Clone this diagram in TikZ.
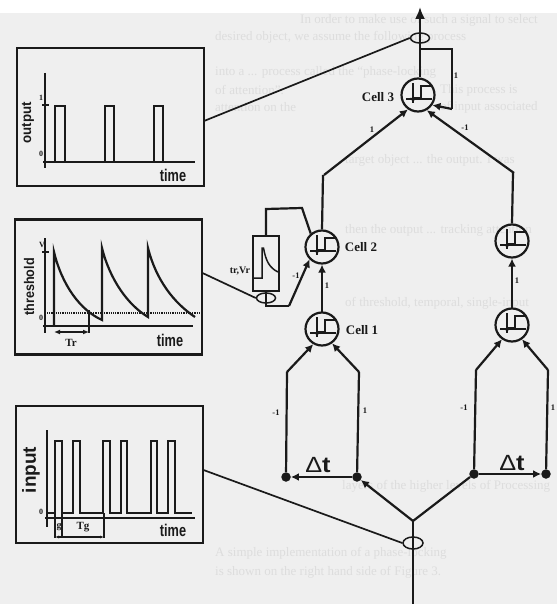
\documentclass[tikz,border=0pt]{standalone}
\usepackage{fontspec}
\setmainfont{Liberation Serif}
\newfontfamily\narrowsans{Liberation Sans}
\usetikzlibrary{arrows.meta,shapes.geometric,calc}
\definecolor{paper}{HTML}{EFEFEF}
\definecolor{ghost}{HTML}{DDDDDD}
\definecolor{ink}{HTML}{1A1A1A}
\tikzset{
  wire/.style={line width=2.2pt,draw=ink,line join=miter},
  thin wire/.style={line width=1.7pt,draw=ink},
  arrowed/.style={wire,-{Latex[length=8pt,width=8pt]}},
  panel/.style={draw=ink,line width=2.2pt,rectangle,minimum width=#1,inner sep=0pt},
  cell/.style={draw=ink,line width=2.2pt,circle,minimum size=33pt,inner sep=0pt},
  loop/.style={draw=ink,line width=1.5pt,ellipse,minimum width=19pt,minimum height=10pt,inner sep=0pt},
  dot/.style={fill=ink,circle,minimum size=9.5pt,inner sep=0pt},
  weight/.style={font=\fontsize{8.5}{8.5}\selectfont\bfseries,text=ink,inner sep=0pt},
  celltag/.style={font=\fontsize{13}{13}\selectfont\bfseries,text=ink,inner sep=0pt},
  axislabel/.style={font=\narrowsans\fontsize{14}{14}\selectfont\bfseries,text=ink,inner sep=0pt,rotate=90},
  timelabel/.style={font=\narrowsans\fontsize{17}{17}\selectfont\bfseries,text=ink,inner sep=0pt},
  small/.style={font=\fontsize{8}{8}\selectfont\bfseries,text=ink,inner sep=0pt},
  ghosttext/.style={font=\fontsize{13}{13}\selectfont,text=ghost,anchor=west,inner sep=0pt},
  axisline/.style={line width=1.5pt,draw=ink},
  curve/.style={line width=1.9pt,draw=ink},
  pics/stepicon/.style={code={
    \draw[line width=1.4pt,draw=ink] (-5,-12) -- (-5,8);
    \draw[line width=1.4pt,draw=ink] (-12,4) -- (14,4);
    \draw[line width=1.4pt,draw=ink] (-5,3) -- (3,3) -- (3,-9) -- (13,-9);
    \fill[ink] (-5,7) -- (-8,3) -- (-2,3) -- cycle;
  }}
}
\begin{document}
\begin{tikzpicture}[x=1pt,y=-1pt]
\useasboundingbox (0,0) rectangle (557,604);
\fill[paper] (0,13) rectangle (557,604);
\fill[white] (0,0) rectangle (557,13);
% printed text of the page behind the figure
\node[ghosttext] (g1) at (300,20) {In order to make use of such a signal to select};
\node[ghosttext] (g2) at (215,37) {desired object, we assume the following process};
\node[ghosttext] (g4) at (215,72) {into a ... process called the ``phase-locking};
\node[ghosttext] (g5a) at (215,90) {of attention''.};
\node[ghosttext] (g5b) at (440,90) {This process is};
\node[ghosttext] (g6a) at (215,107) {attention on the};
\node[ghosttext] (g6b) at (440,107) {of input associated};
\node[ghosttext] (g7) at (345,160) {target object ... the output. I was};
\node[ghosttext] (g8) at (345,230) {then the output ... tracking attention};
\node[ghosttext] (g9) at (345,303) {of threshold, temporal, single-input};
\node[ghosttext] (g10) at (342,486) {layers of the higher levels of Processing};
\node[ghosttext] (g11) at (215,553) {A simple implementation of a phase-locking};
\node[ghosttext] (g12) at (215,572) {is shown on the right hand side of Figure 3.};

% panels
\node[panel=187pt,minimum height=138pt] (outbox) at (110.5,117) {};
\node[panel=187pt,minimum height=135pt] (thrbox) at (108.5,287) {};
\node[panel=187pt,minimum height=137pt] (inbox) at (109.5,474.5) {};
\coordinate (outport) at (204,121);
\coordinate (thrport) at (202.5,273);
\coordinate (inport) at (203.5,470);

% output panel
\draw[axisline] (45,73) -- (45,168);
\draw[line width=2pt,draw=ink] (43,162) -- (195,162);
\draw[axisline] (42,105) -- (49,105);
\draw[curve] (55,162) -- (55,106) -- (65,106) -- (65,162);
\draw[curve] (105,162) -- (105,106) -- (114,106) -- (114,162);
\draw[curve] (154,162) -- (154,106) -- (163,106) -- (163,162);
\node[small] (o1) at (41,98) {1};
\node[small] (o0) at (41,154) {0};
\node[axislabel] (olab) at (28,123) {\scalebox{.95}[1]{output}};
\node[timelabel] (otime) at (173,175) {\scalebox{.75}[1]{time}};

% threshold panel
\draw[axisline] (45,238) -- (45,333);
\draw[line width=1.8pt,draw=ink] (43,326) -- (193,326);
\draw[axisline] (42,252) -- (49,252);
\draw[line width=1.2pt,draw=ink,densely dotted] (47,313) -- (200,313);
\draw[line width=2.2pt,draw=ink] (54,326) -- (54,252)
  .. controls (62,285) and (80,310) .. (102,320) -- (102,248)
  .. controls (110,280) and (128,305) .. (148,317) -- (148,248)
  .. controls (156,280) and (174,303) .. (195,317);
\draw[axisline] (89,310) -- (89,333);
\draw[axisline,{Latex[length=6pt,width=5pt]}-{Latex[length=6pt,width=5pt]}] (54,332) -- (89,332);
\node[small] (tv) at (42,245) {V};
\node[small] (t0) at (41,318) {0};
\node[axislabel] (tlab) at (29,287) {\scalebox{.9}[1]{threshold}};
\node[small,font=\fontsize{11}{11}\selectfont\bfseries] (ttr) at (71,343) {Tr};
\node[timelabel] (ttime) at (170,340) {\scalebox{.75}[1]{time}};

% input panel
\draw[axisline] (47,430) -- (47,527);
\draw[line width=1.4pt,draw=ink] (45,518) -- (195,518);
\draw[curve] (47,513) -- (55,513) -- (55,441) -- (62,441) -- (62,513) -- (73,513) -- (73,441) -- (80,441) -- (80,513)
  -- (103,513) -- (103,441) -- (110,441) -- (110,513) -- (121,513) -- (121,441) -- (127,441) -- (127,513)
  -- (151,513) -- (151,441) -- (157,441) -- (157,513) -- (168,513) -- (168,441) -- (175,441) -- (175,513) -- (192,513);
\draw[line width=1.1pt,draw=ink] (55,513) -- (55,538);
\draw[line width=1.1pt,draw=ink] (62,513) -- (62,538);
\draw[line width=1.1pt,draw=ink] (104,513) -- (104,538);
\draw[line width=1.1pt,draw=ink,{Latex[length=4pt,width=3pt]}-{Latex[length=4pt,width=3pt]}] (55,537) -- (104,537);
\node[small] (i0) at (41,512) {0};
\node[axislabel,font=\narrowsans\fontsize{19}{19}\selectfont\bfseries] (ilab) at (31,470) {input};
\node[small,font=\fontsize{11}{11}\selectfont\bfseries] (itg) at (83,527) {Tg};
\node[small,font=\fontsize{10}{10}\selectfont\bfseries] (ig) at (59,527) {g};
\node[timelabel] (itime) at (173,530) {\scalebox{.75}[1]{time}};

% cells
\node[cell] (c3) at (418,95) {};
\node[cell] (c2) at (322,247) {};
\node[cell] (c1) at (322,329) {};
\node[cell] (r2) at (512,241) {};
\node[cell] (r1) at (512,325) {};
\pic at (c3) {stepicon};
\pic at (c2) {stepicon};
\pic at (c1) {stepicon};
\pic at (r2) {stepicon};
\pic at (r1) {stepicon};
\node[celltag] (l3) at (378,97) {Cell 3};
\node[celltag] (l2) at (361,247) {Cell 2};
\node[celltag] (l1) at (362,330) {Cell 1};

% loops and dots
\node[loop] (lo) at (420,38) {};
\node[loop] (lt) at (266,298) {};
\node[loop,minimum width=20pt,minimum height=12pt] (li) at (413,543) {};
\node[dot] (da) at (286,477) {};
\node[dot] (db) at (357,477) {};
\node[dot] (dc) at (474,474) {};
\node[dot] (dd) at (546,474) {};
\coordinate (j) at (413,521);
\coordinate (bottom) at (413,604);
\coordinate (top) at (420,7);

% refractory box
\node[draw=ink,line width=2pt,rectangle,minimum width=26pt,minimum height=55pt,inner sep=0pt] (rb) at (266,263.5) {};
\draw[line width=1.5pt,draw=ink] (253,278) -- (262,278) -- (262,248) -- (263.5,248) .. controls (266,262) and (270,268) .. (278,272);
\node[small,font=\fontsize{10}{10}\selectfont\bfseries] (ltr) at (240,271) {tr,Vr};

% output wires
\draw[wire,-{Latex[length=12pt,width=10pt]}] (c3.north -| top) -- (top);
\coordinate (fb1) at (420,49);
\coordinate (fb2) at (452,49);
\coordinate (fb3) at (452,109);
\draw[wire] (fb1) -- (fb2) -- (fb3);
\draw[arrowed] (fb3) -- (c3.-35);
\coordinate (ul) at (324,175);
\coordinate (ur) at (514,173);
\draw[wire] (c2.north) -- (323,175);
\draw[arrowed] (ul) -- (c3.-125);
\draw[wire] (r2.north) -- (513,173);
\draw[arrowed] (ur) -- (c3.-60);
\draw[arrowed] (c1) ++(0,-16.5) -- (c2.south);
\draw[arrowed] (r1) ++(0,-16.5) -- (r2.south);
% refractory wires
\coordinate (a1) at (266,209);
\coordinate (a2) at (302,208);
\draw[wire] (rb.north) -- (a1) -- (a2) -- (c2.130);
\coordinate (b1) at (266,306);
\coordinate (b2) at (289,306);
\draw[wire] (rb.south) -- (b1) -- (b2);
\draw[arrowed] (b2) -- (c2.-135);
% lower wires
\coordinate (la) at (287,372);
\coordinate (lb) at (359,372);
\coordinate (lc) at (476,370);
\coordinate (ld) at (548,370);
\draw[wire] (da) -- (la);
\draw[arrowed] (la) -- (c1.-120);
\draw[wire] (db) -- (lb);
\draw[arrowed] (lb) -- (c1.-55);
\draw[wire] (dc) -- (lc);
\draw[arrowed] (lc) -- (r1.-125);
\draw[wire] (dd) -- (ld);
\draw[arrowed] (ld) -- (r1.-55);
\draw[arrowed] (db) -- (da);
\draw[arrowed] (dc) -- (dd);
\draw[arrowed] (j) -- (db);
\draw[wire] (j) -- (dc);
\draw[wire] (j) -- (bottom);
% probe wires
\draw[thin wire] (outport) -- (lo.west);
\draw[thin wire] (thrport) -- (lt.west);
\draw[thin wire] (inport) -- (li.west);
% weights
\node[weight] (w1) at (372,130) {1};
\node[weight] (w2) at (465,128) {-1};
\node[weight] (w3) at (456,76) {1};
\node[weight] (w4) at (296,276) {-1};
\node[weight] (w5) at (327,286) {1};
\node[weight] (w6) at (517,281) {1};
\node[weight] (w7) at (276,413) {-1};
\node[weight] (w8) at (365,411) {1};
\node[weight] (w9) at (464,408) {-1};
\node[weight] (w10) at (553,408) {1};
\node[font=\narrowsans\fontsize{22}{22}\selectfont,text=ink,inner sep=0pt] (dt1) at (318,465) {\scalebox{1.15}[1]{Δ\textbf{t}}};
\node[font=\narrowsans\fontsize{22}{22}\selectfont,text=ink,inner sep=0pt] (dt2) at (512,463) {\scalebox{1.15}[1]{Δ\textbf{t}}};
\end{tikzpicture}
\end{document}
